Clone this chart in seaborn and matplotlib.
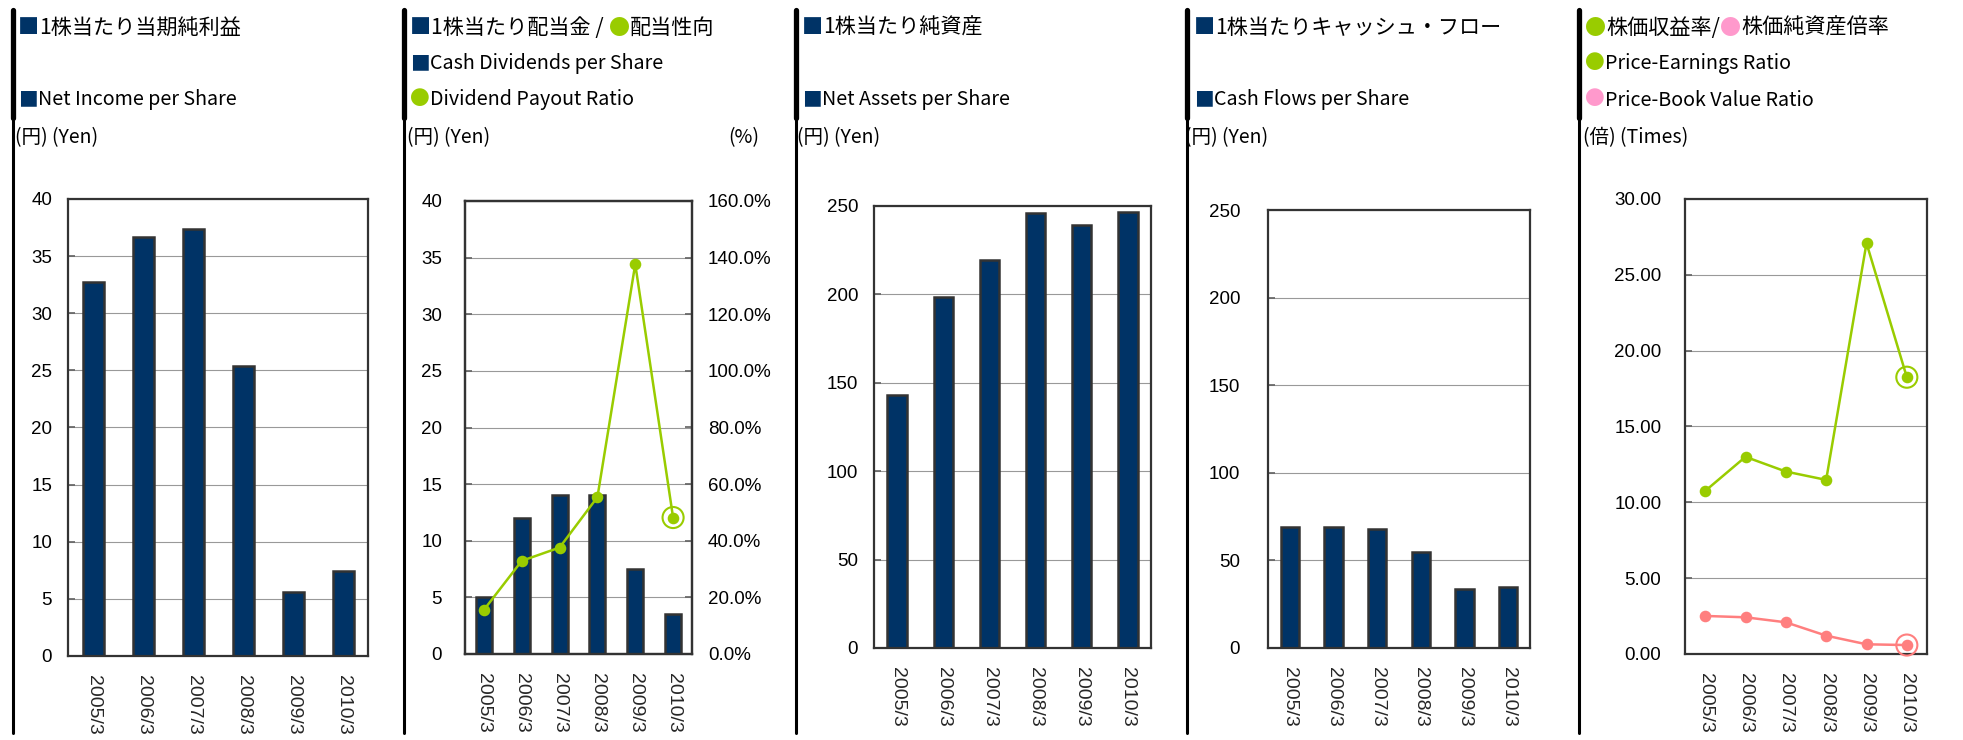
import matplotlib
matplotlib.use("Agg")
import matplotlib.pyplot as plt
import seaborn as sns
from matplotlib.lines import Line2D
from matplotlib.ticker import FixedLocator, FuncFormatter

years = ["2005/3", "2006/3", "2007/3", "2008/3", "2009/3", "2010/3"]
net_income = [32.7, 36.7, 37.4, 25.4, 5.6, 7.4]
dividends = [5.0, 12.0, 14.0, 14.0, 7.5, 3.5]
payout = [15.6, 32.9, 37.6, 55.4, 137.7, 48.2]
net_assets = [143.1, 198.7, 219.5, 245.9, 239.3, 246.4]
cash_flows = [69.3, 69.3, 67.9, 55.0, 33.6, 35.0]
per = [10.75, 13.0, 12.03, 11.48, 27.09, 18.25]
pbr = [2.51, 2.42, 2.09, 1.21, 0.64, 0.59]

NAVY = "#003366"
GREEN = "#99CC00"
PINK = "#FF99CC"
SALMON = "#FF7F7F"
FRAME = "#333333"

sns.set_theme(style="white")
plt.rcParams["font.family"] = ["Noto Sans CJK JP", "DejaVu Sans"]

W, H = 1963, 740
fig = plt.figure(figsize=(W / 100, H / 100), dpi=100)
renderer = fig.canvas.get_renderer()

JP = 15.2
EN = 14.2
UNIT = 14


def add_ax(l, t, r, b):
    return fig.add_axes([l / W, 1 - b / H, (r - l) / W, (b - t) / H])


def style(ax, ymax, step, pad, fmt=None):
    ax.set_ylim(0, ymax)
    ax.set_xlim(-0.5, 5.5)
    ax.yaxis.set_major_locator(FixedLocator([i * step for i in range(int(round(ymax / step)) + 1)]))
    if fmt:
        ax.yaxis.set_major_formatter(FuncFormatter(fmt))
    ax.grid(axis="y", color="#999999", linewidth=0.8)
    ax.set_axisbelow(True)
    for s in ax.spines.values():
        s.set_color(FRAME)
        s.set_linewidth(1.6)
    ax.tick_params(axis="y", direction="in", length=5, color="#666666",
                   labelsize=13.5, pad=pad, labelcolor="black", left=True)
    ax.tick_params(axis="x", length=0, labelsize=14, pad=14, labelrotation=270)
    ax.set_xlabel("")
    ax.set_ylabel("")
    for lbl in ax.get_yticklabels() + ax.get_xticklabels():
        lbl.set_fontfamily(["Liberation Sans", "DejaVu Sans"])


def bars(ax, vals):
    sns.barplot(x=years, y=vals, ax=ax, color=NAVY, width=0.42, saturation=1,
                edgecolor=FRAME, linewidth=1.8)


def line(ax, vals, color):
    sns.pointplot(x=years, y=vals, ax=ax, color=color, markersize=7, linewidth=1.8)
    ax.scatter([len(vals) - 1], [vals[-1]], s=230, facecolors="none",
               edgecolors=color, linewidths=1.5, zorder=5, clip_on=False)


def rich(x, y, parts, size=JP):
    for s, c in parts:
        t = fig.text(x / W, 1 - y / H, s, color=c, fontsize=size, va="center", ha="left")
        x = t.get_window_extent(renderer).x1


# separators
for px in [12.5, 404, 795.5, 1186.5, 1579]:
    fig.add_artist(Line2D([px / W] * 2, [1 - 10 / H, 1 - 118 / H], color="black", linewidth=3.8))
    fig.add_artist(Line2D([px / W] * 2, [1 - 118 / H, 1 - 733 / H], color="black", linewidth=2.2))

# panel 1
ax1 = add_ax(68, 199, 368, 656)
bars(ax1, net_income)
style(ax1, 40, 5, 11.5)
rich(18, 28, [("■", NAVY), ("1株当たり当期純利益", "black")])
rich(18, 100, [("■", NAVY), ("Net Income per Share", "black")], EN)
rich(15, 138, [("(円) (Yen)", "black")], UNIT)

# panel 2
ax2 = add_ax(465, 201, 692, 654)
bars(ax2, dividends)
style(ax2, 40, 5, 16.5)
ax2b = ax2.twinx()
line(ax2b, payout, GREEN)
style(ax2b, 160, 20, 11.5, lambda v, p: f"{v:.1f}%")
ax2b.grid(False)
ax2b.tick_params(axis="y", right=True, left=False)
rich(410, 28, [("■", NAVY), ("1株当たり配当金 / ", "black"), ("●", GREEN), ("配当性向", "black")])
rich(410, 64, [("■", NAVY), ("Cash Dividends per Share", "black")], EN)
rich(410, 100, [("●", GREEN), ("Dividend Payout Ratio", "black")], EN)
rich(407, 138, [("(円) (Yen)", "black")], UNIT)
rich(728, 138, [("(%)", "black")], UNIT)

# panel 3
ax3 = add_ax(874, 206, 1151, 648)
bars(ax3, net_assets)
style(ax3, 250, 50, 11.5)
rich(802, 28, [("■", NAVY), ("1株当たり純資産", "black")])
rich(802, 100, [("■", NAVY), ("Net Assets per Share", "black")], EN)
rich(797, 138, [("(円) (Yen)", "black")], UNIT)

# panel 4
ax4 = add_ax(1268, 210, 1530, 648)
bars(ax4, cash_flows)
style(ax4, 250, 50, 20)
rich(1194, 28, [("■", NAVY), ("1株当たりキャッシュ・フロー", "black")])
rich(1194, 100, [("■", NAVY), ("Cash Flows per Share", "black")], EN)
rich(1185, 138, [("(円) (Yen)", "black")], UNIT)

# panel 5
ax5 = add_ax(1685, 199, 1927, 654)
line(ax5, per, GREEN)
line(ax5, pbr, SALMON)
style(ax5, 30, 5, 17, lambda v, p: f"{v:.2f}")
rich(1585, 28, [("●", GREEN), ("株価収益率/", "black"), ("●", PINK), ("株価純資産倍率", "black")])
rich(1585, 64, [("●", GREEN), ("Price-Earnings Ratio", "black")], EN)
rich(1585, 100, [("●", PINK), ("Price-Book Value Ratio", "black")], EN)
rich(1583, 138, [("(倍) (Times)", "black")], UNIT)

fig.savefig("out.png", dpi=100)
